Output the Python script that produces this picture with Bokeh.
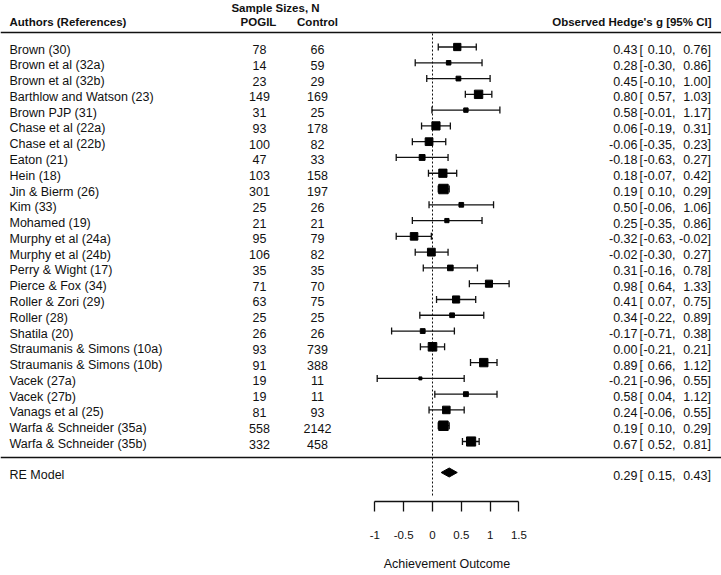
from bokeh.plotting import figure
from bokeh.models import Range1d, LinearAxis, FixedTicker, ColumnDataSource
from bokeh.core.properties import value
from bokeh.embed import file_html
from bokeh.resources import INLINE

# ---------------- data ----------------
authors = ["Brown (30)", "Brown et al (32a)", "Brown et al (32b)", "Barthlow and Watson (23)",
           "Brown PJP (31)", "Chase et al (22a)", "Chase et al (22b)", "Eaton (21)", "Hein (18)",
           "Jin & Bierm (26)", "Kim (33)", "Mohamed (19)", "Murphy et al (24a)", "Murphy et al (24b)",
           "Perry & Wight (17)", "Pierce & Fox (34)", "Roller & Zori (29)", "Roller (28)",
           "Shatila (20)", "Straumanis & Simons (10a)", "Straumanis & Simons (10b)", "Vacek (27a)",
           "Vacek (27b)", "Vanags et al (25)", "Warfa & Schneider (35a)", "Warfa & Schneider (35b)"]
pogil = [78, 14, 23, 149, 31, 93, 100, 47, 103, 301, 25, 21, 95, 106, 35, 71, 63, 25, 26, 93, 91,
         19, 19, 81, 558, 332]
control = [66, 59, 29, 169, 25, 178, 82, 33, 158, 197, 26, 21, 79, 82, 35, 70, 75, 25, 26, 739, 388,
           11, 11, 93, 2142, 458]
est = [0.43, 0.28, 0.45, 0.80, 0.58, 0.06, -0.06, -0.18, 0.18, 0.19, 0.50, 0.25, -0.32, -0.02, 0.31,
       0.98, 0.41, 0.34, -0.17, 0.00, 0.89, -0.21, 0.58, 0.24, 0.19, 0.67]
lo = [0.10, -0.30, -0.10, 0.57, -0.01, -0.19, -0.35, -0.63, -0.07, 0.10, -0.06, -0.35, -0.63, -0.30,
      -0.16, 0.64, 0.07, -0.22, -0.71, -0.21, 0.66, -0.96, 0.04, -0.06, 0.10, 0.52]
hi = [0.76, 0.86, 1.00, 1.03, 1.17, 0.31, 0.23, 0.27, 0.42, 0.29, 1.06, 0.86, -0.02, 0.27, 0.78,
      1.33, 0.75, 0.89, 0.38, 0.21, 1.12, 0.55, 1.12, 0.55, 0.29, 0.81]
re_label = "RE Model"
re_est, re_lo, re_hi = 0.29, 0.15, 0.43
ticks = [-1, -0.5, 0, 0.5, 1, 1.5]
tick_labels = ["-1", "-0.5", "0", "0.5", "1", "1.5"]
x_title = "Achievement Outcome"

# ---------------- layout helpers ----------------
W, H = 721, 575
AXIS_Y = 501
BOTTOM_PANEL = H - AXIS_Y
UNIT = 57.6          # px per effect unit
X0 = 432             # x pixel of effect 0


def PX(px):
    return (px - X0) / UNIT


ROW0, STEP = 46.5, 15.78
n = len(authors)
row_y = [ROW0 + STEP * i for i in range(n)]
RE_Y = 472
TXT_DY = 2.5

FONT = "Liberation Sans"
INK = "#111111"

p = figure(width=W, height=H, output_backend="svg", toolbar_location=None,
           x_axis_type=None, y_axis_type=None,
           x_range=Range1d(PX(0), PX(W)), y_range=Range1d(AXIS_Y, 0),
           min_border_left=0, min_border_right=0, min_border_top=0,
           min_border_bottom=BOTTOM_PANEL)
p.outline_line_color = None
p.grid.visible = False
p.background_fill_color = "white"
p.border_fill_color = "white"

# weights -> square size (RE weights with tau^2 ~ 0.1)
wts = [1.0 / (((h - l) / 3.92) ** 2 + 0.1) for l, h in zip(lo, hi)]
wmin, wmax = min(wts), max(wts)
sizes = [3.0 + (w - wmin) / (wmax - wmin) * 6.5 for w in wts]

src = ColumnDataSource(dict(
    y=row_y, ty=[y + TXT_DY for y in row_y], est=est, lo=lo, hi=hi, size=sizes,
    author=authors, pogil=[str(v) for v in pogil], control=[str(v) for v in control],
    est_s=[f"{v:.2f}" for v in est], lo_s=[f"{v:.2f}," for v in lo], hi_s=[f"{v:.2f}" for v in hi],
    cap_top=[y - 3.5 for y in row_y], cap_bot=[y + 3.5 for y in row_y],
))

# horizontal rules
p.segment(x0=PX(0), x1=PX(W), y0=32, y1=32, line_color=INK, line_width=1.5)
p.segment(x0=PX(0), x1=PX(W), y0=457, y1=457, line_color=INK, line_width=1.5)

# zero reference line
p.segment(x0=0, x1=0, y0=33, y1=497, line_color=INK, line_width=1, line_dash="2 2")

# CIs
p.segment(x0="lo", x1="hi", y0="y", y1="y", source=src, line_color=INK, line_width=1.3)
p.segment(x0="lo", x1="lo", y0="cap_top", y1="cap_bot", source=src, line_color=INK, line_width=1.3)
p.segment(x0="hi", x1="hi", y0="cap_top", y1="cap_bot", source=src, line_color=INK, line_width=1.3)
p.scatter(x="est", y="y", size="size", marker="square", source=src,
          fill_color="black", line_color="black")

# RE diamond
p.patch(x=[re_lo, re_est, re_hi, re_est], y=[RE_Y, RE_Y - 4.5, RE_Y, RE_Y + 4.5],
        fill_color="black", line_color="black")

txt = dict(text_font=value(FONT), text_font_size="12.5px", text_color=INK,
           text_baseline="alphabetic")
p.text(x=PX(9), y="ty", text="author", source=src, text_align="left", **txt)
p.text(x=PX(259), y="ty", text="pogil", source=src, text_align="center", **txt)
p.text(x=PX(317), y="ty", text="control", source=src, text_align="center", **txt)
p.text(x=PX(637), y="ty", text="est_s", source=src, text_align="right", **txt)
p.text(x=PX(639), y="ty", text=value("["), source=src, text_align="left", **txt)
p.text(x=PX(675), y="ty", text="lo_s", source=src, text_align="right", **txt)
p.text(x=PX(707), y="ty", text="hi_s", source=src, text_align="right", **txt)
p.text(x=PX(707), y="ty", text=value("]"), source=src, text_align="left", **txt)

# RE row text
RT = RE_Y + TXT_DY
p.text(x=[PX(9)], y=[RT], text=[re_label], text_align="left", **txt)
p.text(x=[PX(637)], y=[RT], text=[f"{re_est:.2f}"], text_align="right", **txt)
p.text(x=[PX(639)], y=[RT], text=["["], text_align="left", **txt)
p.text(x=[PX(675)], y=[RT], text=[f"{re_lo:.2f},"], text_align="right", **txt)
p.text(x=[PX(707)], y=[RT], text=[f"{re_hi:.2f}"], text_align="right", **txt)
p.text(x=[PX(707)], y=[RT], text=["]"], text_align="left", **txt)

# headers
hdr = dict(text_font=value(FONT), text_font_size="11.5px", text_font_style="bold",
           text_color=INK, text_baseline="alphabetic")
p.text(x=[PX(275)], y=[7], text=["Sample Sizes, N"], text_align="center", **hdr)
p.text(x=[PX(9)], y=[21], text=["Authors (References)"], text_align="left", **hdr)
p.text(x=[PX(258)], y=[21], text=["POGIL"], text_align="center", **hdr)
p.text(x=[PX(317)], y=[21], text=["Control"], text_align="center", **hdr)
p.text(x=[PX(711)], y=[21], text=["Observed Hedge's g [95% CI]"], text_align="right", **hdr)

# x axis
xaxis = LinearAxis(ticker=FixedTicker(ticks=ticks), bounds=(-1, 1.5),
                   major_label_overrides={t: l for t, l in zip(ticks, tick_labels)})
xaxis.axis_line_color = INK
xaxis.axis_line_width = 1.3
xaxis.major_tick_line_color = INK
xaxis.major_tick_line_width = 1.3
xaxis.major_tick_in = 0
xaxis.major_tick_out = 10
xaxis.minor_tick_line_color = None
xaxis.major_label_standoff = 19
xaxis.major_label_text_font = FONT
xaxis.major_label_text_font_size = "11.5px"
xaxis.major_label_text_color = INK
p.add_layout(xaxis, "below")

# axis title, centred over the bounded axis (-1 .. 1.5)
title_x = (ticks[0] + ticks[-1]) / 2
title_axis = LinearAxis(ticker=FixedTicker(ticks=[title_x]),
                        major_label_overrides={title_x: x_title})
title_axis.axis_line_color = None
title_axis.major_tick_line_color = None
title_axis.minor_tick_line_color = None
title_axis.major_tick_in = 0
title_axis.major_tick_out = 0
title_axis.major_label_standoff = 15
title_axis.major_label_text_font = FONT
title_axis.major_label_text_font_size = "12.5px"
title_axis.major_label_text_color = INK
p.add_layout(title_axis, "below")

open("out.html", "w").write(file_html(p, INLINE))
